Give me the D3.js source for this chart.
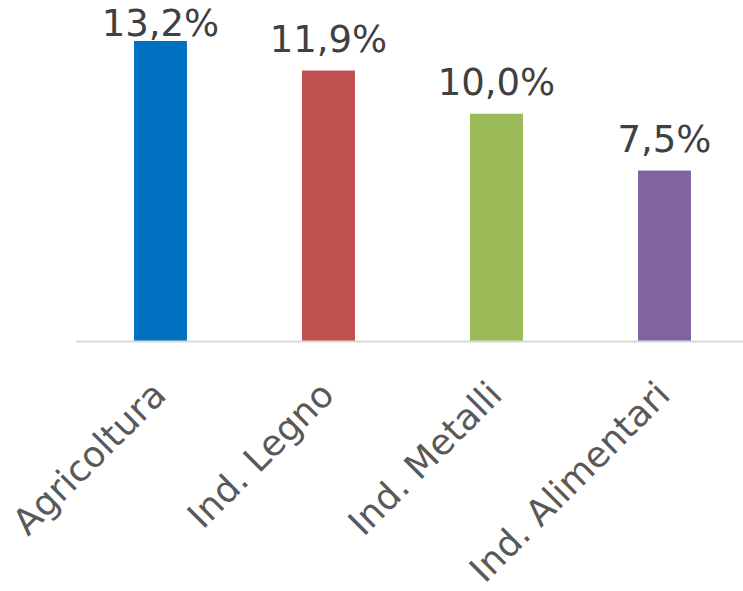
<!DOCTYPE html>
<html>
<head>
<meta charset="utf-8">
<script src="https://cdn.jsdelivr.net/npm/d3@7"></script>
<style>
  html, body { margin: 0; padding: 0; background: #ffffff; }
  svg { display: block; }
</style>
</head>
<body>
<svg id="chart" width="743" height="591"></svg>
<script>
// Share by sector (percent)
const categories = ["Agricoltura", "Ind. Legno", "Ind. Metalli", "Ind. Alimentari"];
const values = [13.2, 11.9, 10.0, 7.5];
const valueLabels = ["13,2%", "11,9%", "10,0%", "7,5%"];
const colors = ["#0070C0", "#C0504D", "#9BBB59", "#8064A2"];

const svg = d3.select("#chart");
const baseline = 341;

const x = d3.scaleBand()
  .domain(categories)
  .range([76.5, 748.5])
  .paddingInner(0.685)
  .paddingOuter(0.3425);

const y = d3.scaleLinear()
  .domain([0, 14])
  .range([baseline, baseline - 14 * (300 / 13.2)]);

const rows = categories.map((c, i) => ({ cat: c, v: values[i], label: valueLabels[i], color: colors[i] }));

// bars
svg.append("g")
  .selectAll("rect")
  .data(rows)
  .join("rect")
  .attr("x", d => x(d.cat))
  .attr("y", d => y(d.v))
  .attr("width", x.bandwidth())
  .attr("height", d => y(0) - y(d.v))
  .attr("fill", d => d.color);

// category axis line
svg.append("line")
  .attr("x1", 76).attr("x2", 743)
  .attr("y1", baseline + 0.5).attr("y2", baseline + 0.5)
  .attr("stroke", "#d9d9d9")
  .attr("stroke-width", 2);

// value labels above bars (kept inside the top edge)
svg.append("g")
  .selectAll("text")
  .data(rows)
  .join("text")
  .attr("x", d => x(d.cat) + x.bandwidth() / 2)
  .attr("y", d => Math.max(y(d.v) - 19, 36))
  .attr("text-anchor", "middle")
  .attr("font-family", "Verdana, 'DejaVu Sans', sans-serif")
  .attr("font-size", 37)
  .attr("fill", "#404040")
  .text(d => d.label);

// rotated category labels
svg.append("g")
  .selectAll("text")
  .data(rows)
  .join("text")
  .attr("transform", d => `translate(${x(d.cat) + x.bandwidth() / 2 + 7.5},397) rotate(-45)`)
  .attr("text-anchor", "end")
  .attr("font-family", "Verdana, 'DejaVu Sans', sans-serif")
  .attr("font-size", 36)
  .attr("fill", "#595959")
  .text(d => d.cat);
</script>
</body>
</html>
